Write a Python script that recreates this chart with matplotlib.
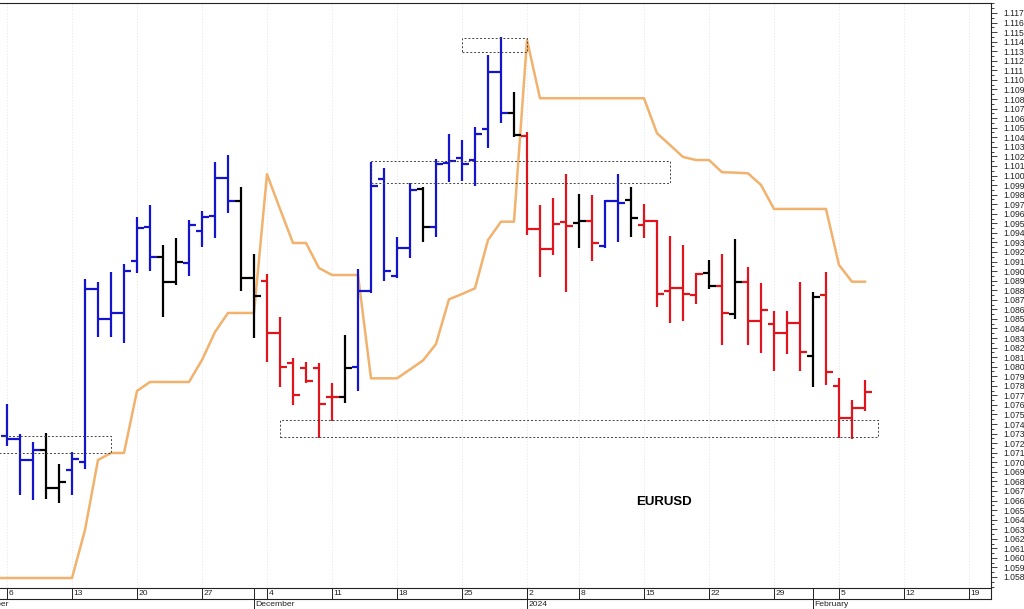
import matplotlib
matplotlib.use("Agg")
import matplotlib.pyplot as plt
import numpy as np
import pandas as pd
from matplotlib.patches import Rectangle
from matplotlib.ticker import FixedLocator, FormatStrFormatter

plt.rcParams['font.family'] = ['Liberation Sans', 'DejaVu Sans']

# ---------------- data ----------------
bar_start = '2023-11-06'
opens = [1.07278, 1.07243, 1.07024, 1.07128, 1.06736, 1.06914, 1.07008, 1.08813, 1.08496, 1.08558,
         1.09106, 1.09464, 1.09151, 1.08889, 1.09082, 1.09423, 1.09576, 1.09971, 1.09733, 1.08925,
         1.08896, 1.08356, 1.08035, 1.07989, 1.07989, 1.07678, 1.07683, 1.07997, 1.08795, 1.09963,
         1.08949, 1.09238, 1.09856, 1.09458, 1.10134, 1.10186, 1.10162, 1.10483, 1.11080, 1.10651,
         1.10416, 1.09440, 1.09228, 1.09510, 1.09503, 1.09524, 1.09263, 1.09736, 1.09744, 1.09482,
         1.09521, 1.08792, 1.08826, 1.08750, 1.08977, 1.08841, 1.08554, 1.08881, 1.08481, 1.08447,
         1.08356, 1.08454, 1.08112, 1.08750, 1.07801, 1.07460, 1.07565]
highs = [1.07607, 1.07296, 1.07209, 1.07301, 1.06980, 1.07107, 1.08914, 1.08889, 1.08994, 1.09074,
         1.09563, 1.09691, 1.09273, 1.09343, 1.09535, 1.09632, 1.10138, 1.10214, 1.09883, 1.09176,
         1.08966, 1.08523, 1.08088, 1.08049, 1.08039, 1.07832, 1.08328, 1.09017, 1.10144, 1.10075,
         1.09360, 1.09918, 1.09877, 1.10170, 1.10434, 1.10371, 1.10504, 1.11261, 1.11446, 1.10870,
         1.10458, 1.09695, 1.09762, 1.10016, 1.09806, 1.09796, 1.09744, 1.10016, 1.09883, 1.09699,
         1.09535, 1.09367, 1.09268, 1.08977, 1.09116, 1.09176, 1.09336, 1.09040, 1.08872, 1.08583,
         1.08586, 1.08889, 1.08784, 1.08994, 1.07878, 1.07651, 1.07861]
lows = [1.07170, 1.06655, 1.06605, 1.06611, 1.06569, 1.06658, 1.06926, 1.08314, 1.08307, 1.08251,
        1.08983, 1.09004, 1.08523, 1.08855, 1.08949, 1.09255, 1.09343, 1.09605, 1.08795, 1.08297,
        1.08052, 1.07791, 1.07599, 1.07829, 1.07251, 1.07432, 1.07623, 1.07742, 1.08768, 1.08900,
        1.08925, 1.09140, 1.09308, 1.09360, 1.09935, 1.09946, 1.09890, 1.10285, 1.10546, 1.10400,
        1.09378, 1.08935, 1.09168, 1.08778, 1.09238, 1.09109, 1.09242, 1.09308, 1.09360, 1.09343,
        1.08628, 1.08454, 1.08478, 1.08659, 1.08810, 1.08227, 1.08496, 1.08227, 1.08140, 1.07958,
        1.08133, 1.07958, 1.07791, 1.07808, 1.07251, 1.07240, 1.07540]
closes = [1.07243, 1.07024, 1.07128, 1.06731, 1.06791, 1.07034, 1.08813, 1.08496, 1.08558, 1.09001,
          1.09448, 1.09151, 1.08883, 1.09092, 1.09482, 1.09569, 1.09971, 1.09733, 1.08925, 1.08743,
          1.08356, 1.07997, 1.07704, 1.07847, 1.07610, 1.07686, 1.07991, 1.08792, 1.09890, 1.09004,
          1.09238, 1.09848, 1.09458, 1.10120, 1.10155, 1.10120, 1.10434, 1.11080, 1.10651, 1.10424,
          1.09444, 1.09231, 1.09496, 1.09469, 1.09524, 1.09294, 1.09736, 1.09712, 1.09559, 1.09521,
          1.08757, 1.08826, 1.08757, 1.08970, 1.08846, 1.08558, 1.08881, 1.08481, 1.08593, 1.08356,
          1.08454, 1.08157, 1.08732, 1.07948, 1.07460, 1.07565, 1.07732]
bar_colors = list("bbbkkbbbbbbbkkbbbbkkrrrrrrkbbbbbkbbbbbbkrrrrkrbbkrrrrrkrkrrrrrkrrrr")

line_start = '2023-11-03'
line_values = [1.05789, 1.05789, 1.05789, 1.05789, 1.05789, 1.05789, 1.05789, 1.06292, 1.07024, 1.07097,
               1.07097, 1.07746, 1.07840, 1.07840, 1.07840, 1.07840, 1.08070, 1.08363, 1.08562, 1.08562,
               1.08562, 1.10013, 1.09650, 1.09294, 1.09294, 1.09032, 1.08959, 1.08959, 1.08959, 1.07878,
               1.07878, 1.07878, 1.07971, 1.08065, 1.08237, 1.08705, 1.08760, 1.08820, 1.09325, 1.09517,
               1.09517, 1.11418, 1.10808, 1.10808, 1.10808, 1.10808, 1.10808, 1.10808, 1.10808, 1.10808,
               1.10808, 1.10442, 1.10319, 1.10194, 1.10162, 1.10162, 1.10034, 1.10030, 1.10023, 1.09901,
               1.09650, 1.09650, 1.09650, 1.09650, 1.09650, 1.09064, 1.08889, 1.08889]

rect_starts = ['2023-11-01', '2023-12-25', '2023-12-14', '2023-12-05']
rect_ends = ['2023-11-16', '2024-01-02', '2024-01-17', '2024-02-08']
rect_lows = [1.07097, 1.11289, 1.09922, 1.07268]
rect_highs = [1.07278, 1.11435, 1.10152, 1.07442]

week_ticks = ['2023-11-06', '2023-11-13', '2023-11-20', '2023-11-27', '2023-12-04', '2023-12-11',
              '2023-12-18', '2023-12-25', '2024-01-02', '2024-01-08', '2024-01-15', '2024-01-22',
              '2024-01-29', '2024-02-05', '2024-02-12', '2024-02-19']
week_labels = ['6', '13', '20', '27', '4', '11', '18', '25', '2', '8', '15', '22', '29', '5', '12', '19']
month_ticks = ['2023-11-01', '2023-12-01', '2024-01-02', '2024-02-01']
month_labels = ['November', 'December', '2024', 'February']

symbol = 'EURUSD'

# ---------------- trading-day axis ----------------
calendar = pd.bdate_range('2023-10-30', '2024-02-29')
calendar = calendar[calendar != pd.Timestamp('2024-01-01')]
origin = calendar.get_loc(pd.Timestamp(bar_start))


def pos(d):
    return calendar.get_loc(pd.Timestamp(d)) - origin


bx = np.arange(len(opens)) + pos(bar_start)
lx = np.arange(len(line_values)) + pos(line_start)
cmap = {'b': '#1414cc', 'k': '#000000', 'r': '#e0141c'}
cols = [cmap[c] for c in bar_colors]

W, H = 1024, 609
fig = plt.figure(figsize=(W / 100, H / 100), dpi=100)
ax = fig.add_axes([0, 21 / H, 991 / W, 585 / H])
ax.set_xlim(-7 / 13, 984 / 13)
ax.set_ylim(1.056847, 1.118046)

ax.spines['left'].set_visible(False)
for s in ['top', 'right', 'bottom']:
    ax.spines[s].set_linewidth(0.8)
    ax.spines[s].set_color('#222222')

ax.yaxis.tick_right()
ax.yaxis.set_major_locator(FixedLocator(np.round(np.arange(1.058, 1.1175, 0.001), 3)))
ax.yaxis.set_minor_locator(FixedLocator(np.round(np.arange(1.057, 1.1182, 0.0005), 4)))
ax.yaxis.set_major_formatter(FormatStrFormatter('%.3f'))
ax.tick_params(axis='y', which='major', length=4, width=0.6, pad=5, labelsize=6.2,
               colors='#222222')
ax.tick_params(axis='y', which='minor', length=2.5, width=0.6, colors='#222222')
ax.set_xticks([])

wt = [pos(d) for d in week_ticks]
for p in wt:
    ax.axvline(p, color='#e6e6e6', lw=0.6, ls=(0, (1.5, 2)), zorder=0)

# orange line
ax.plot(lx, line_values, color='#f2b26e', lw=1.8, solid_joinstyle='round', zorder=2)

# bars
lw = 1.6
ax.vlines(bx, lows, highs, colors=cols, lw=lw, zorder=3)
ax.hlines(opens, bx - 0.5, bx, colors=cols, lw=lw, zorder=3)
ax.hlines(closes, bx, bx + 0.5, colors=cols, lw=lw, zorder=3)

# dotted rectangles
for s, e, lo, hi in zip(rect_starts, rect_ends, rect_lows, rect_highs):
    x0, x1 = pos(s), pos(e)
    ax.add_patch(Rectangle((x0, lo), x1 - x0, hi - lo, fill=False, ec='#444444',
                           lw=0.7, ls=(0, (2, 2)), zorder=4))

ax.text(50.5, 1.06584, symbol, fontsize=9.5, fontweight='bold', ha='center', va='center')

# date band
xt = ax.get_xaxis_transform()
xmin, xmax = ax.get_xlim()
yb = -11 / 585
ym = -22 / 585
ax.plot([xmin, xmax], [yb, yb], transform=xt, clip_on=False, color='#222222', lw=0.8)
ax.plot([xmax, xmax], [0, yb], transform=xt, clip_on=False, color='#222222', lw=0.8)
for p, lab in zip(wt, week_labels):
    ax.plot([p, p], [0, yb], transform=xt, clip_on=False, color='#222222', lw=0.7)
    ax.text(p + 0.12, -5.6 / 585, lab, transform=xt, clip_on=False, fontsize=6.1,
            ha='left', va='center', color='#222222')
for d, lab in zip(month_ticks, month_labels):
    p = pos(d)
    ax.plot([p, p], [0, ym], transform=xt, clip_on=False, color='#222222', lw=0.7)
    ax.text(p + 0.1, -16.8 / 585, lab, transform=xt, clip_on=False, fontsize=6.1,
            ha='left', va='center', color='#222222')

fig.savefig('out.png', dpi=100)
